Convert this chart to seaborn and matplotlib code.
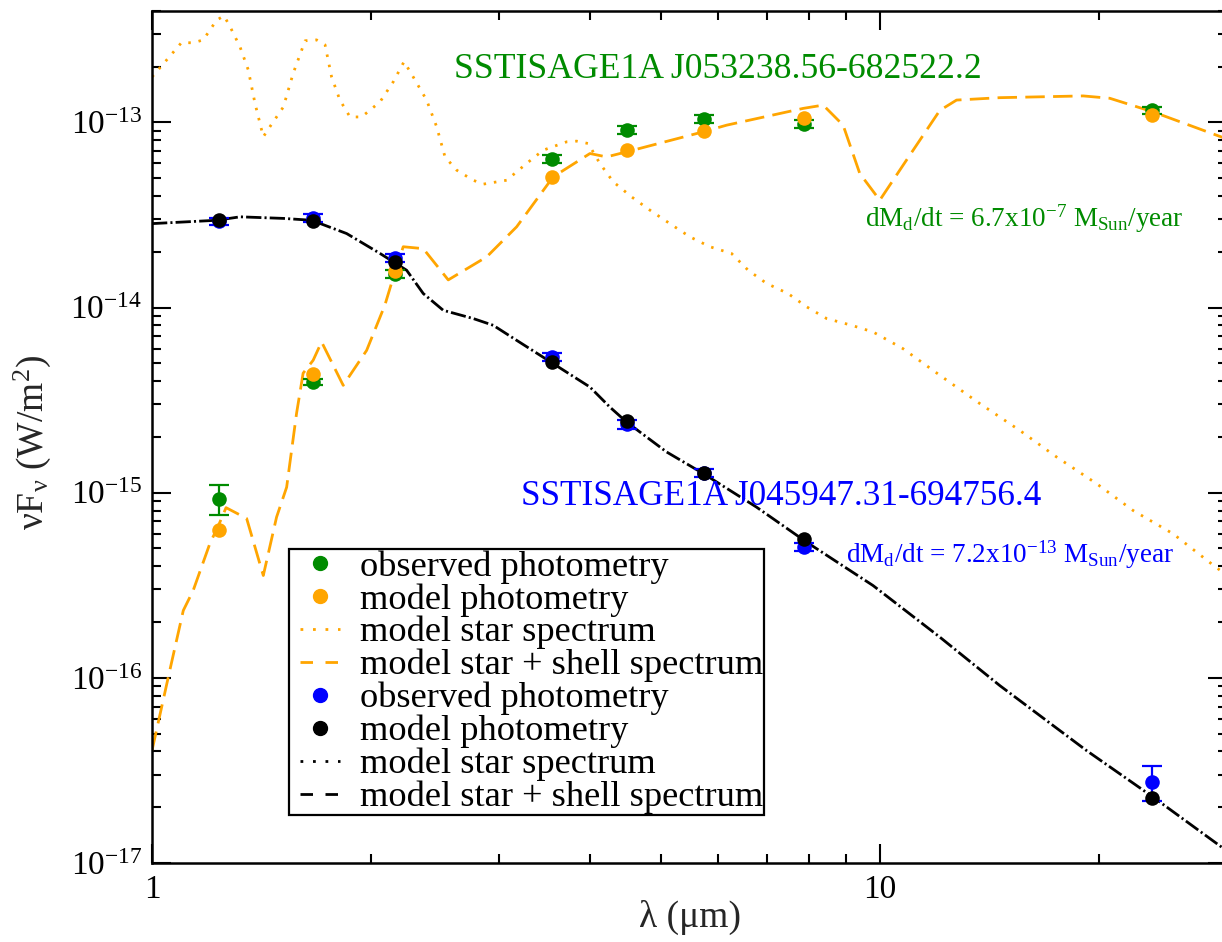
import matplotlib
matplotlib.use("Agg")
import matplotlib.pyplot as plt
from matplotlib.lines import Line2D
from matplotlib.legend_handler import HandlerLine2D
from matplotlib.ticker import (FuncFormatter, NullFormatter, LogFormatterMathtext,
                               FixedLocator)
import seaborn as sns

# ---------------------------------------------------------------- data
# photometric bands (J, H, Ks, IRAC 3.6/4.5/5.8/8.0, MIPS 24), micron
band_wl = [1.235, 1.662, 2.159, 3.550, 4.493, 5.731, 7.872, 23.68]

# SSTISAGE1A J053238.56-682522.2
obs_a = [9.3e-16, 3.96e-15, 1.52e-14, 6.38e-14, 9.08e-14, 1.046e-13, 9.8e-14, 1.165e-13]
obs_a_err = [1.7e-16, 1.5e-16, 0.8e-15, 3.2e-15, 4.5e-15, 5.0e-15, 5.0e-15, 5.0e-15]
mod_a = [6.25e-16, 4.4e-15, 1.57e-14, 5.05e-14, 7.08e-14, 9.0e-14, 1.05e-13, 1.10e-13]

star_a_wl = [1.0, 1.047, 1.098, 1.139, 1.176, 1.227, 1.256, 1.280, 1.321, 1.356,
             1.385, 1.422, 1.452, 1.515, 1.563, 1.623, 1.683, 1.729, 1.765, 1.812,
             1.871, 1.941, 2.057, 2.146, 2.220, 2.285, 2.384, 2.461, 2.527, 2.622,
             2.763, 2.852, 3.071, 3.271, 3.448, 3.712, 3.832, 3.975, 4.125, 4.302,
             4.560, 4.831, 5.147, 5.483, 5.842, 6.255, 6.594, 6.989, 7.482, 7.931,
             8.452, 9.145, 9.79, 10.76, 12.09, 13.72, 15.57, 17.49, 19.85, 22.28,
             25.29, 28.56, 30.0]
star_a_flux = [1.76e-13, 2.17e-13, 2.70e-13, 2.69e-13, 2.79e-13, 3.57e-13, 3.76e-13,
               3.29e-13, 2.56e-13, 1.92e-13, 1.27e-13, 8.36e-14, 9.47e-14, 1.21e-13,
               1.84e-13, 2.76e-13, 2.79e-13, 2.62e-13, 1.76e-13, 1.32e-13, 1.07e-13,
               1.07e-13, 1.29e-13, 1.66e-13, 2.13e-13, 1.76e-13, 1.32e-13, 9.47e-14,
               6.51e-14, 5.52e-14, 4.87e-14, 4.64e-14, 4.87e-14, 6.00e-14, 7.08e-14,
               7.85e-14, 7.92e-14, 7.69e-14, 6.00e-14, 4.78e-14, 3.96e-14, 3.36e-14,
               2.84e-14, 2.41e-14, 2.13e-14, 1.96e-14, 1.59e-14, 1.35e-14, 1.19e-14,
               1.01e-14, 8.72e-15, 8.02e-15, 7.38e-15, 6.00e-15, 4.31e-15, 3.03e-15,
               2.17e-15, 1.56e-15, 1.12e-15, 8.02e-16, 6.00e-16, 4.13e-16, 3.57e-16]

shell_a_wl = [1.0, 1.058, 1.104, 1.139, 1.201, 1.233, 1.264, 1.349, 1.422, 1.483,
              1.531, 1.580, 1.613, 1.665, 1.710, 1.831, 1.972, 2.089, 2.146, 2.214,
              2.359, 2.553, 2.884, 3.170, 3.558, 3.997, 4.213, 4.487, 5.718, 6.159,
              7.846, 8.360, 8.905, 9.386, 10.0, 10.88, 12.09, 12.75, 14.62, 19.03,
              20.70, 23.74, 30.0]
shell_a_flux = [4.05e-17, 1.10e-16, 2.31e-16, 2.96e-16, 5.32e-16, 6.6e-16, 8.30e-16,
                7.26e-16, 3.57e-16, 7.38e-16, 1.07e-15, 2.69e-15, 4.42e-15, 5.19e-15,
                6.52e-15, 3.80e-15, 5.87e-15, 1.03e-14, 1.46e-14, 2.13e-14, 2.08e-14,
                1.41e-14, 1.88e-14, 2.73e-14, 5.08e-14, 6.79e-14, 6.51e-14, 6.93e-14,
                8.89e-14, 9.66e-14, 1.19e-13, 1.24e-13, 9.66e-14, 5.30e-14, 3.80e-14,
                6.25e-14, 1.16e-13, 1.32e-13, 1.36e-13, 1.39e-13, 1.35e-13, 1.14e-13,
                8.13e-14]

# SSTISAGE1A J045947.31-694756.4
obs_b = [2.92e-14, 3.05e-14, 1.86e-14, 5.4e-15, 2.34e-15, 1.28e-15, 5.08e-16, 2.75e-17]
obs_b_err = [1.3e-15, 1.5e-15, 0.9e-15, 2.7e-16, 1.2e-16, 6.0e-17, 2.5e-17, 6.0e-18]
mod_b = [2.98e-14, 2.95e-14, 1.77e-14, 5.08e-15, 2.44e-15, 1.28e-15, 5.6e-16, 2.23e-17]

spec_b_wl = [1.0, 1.227, 1.321, 1.515, 1.657, 1.851, 2.057, 2.238, 2.359, 2.513,
             2.763, 2.943, 3.170, 3.558, 3.997, 4.257, 4.487, 5.093, 5.718, 6.769,
             7.931, 9.79, 12.09, 14.62, 19.23, 23.74, 30.0]
star_b_flux = [2.84e-14, 2.96e-14, 3.09e-14, 3.03e-14, 2.96e-14, 2.51e-14, 1.96e-14,
               1.59e-14, 1.19e-14, 9.66e-15, 8.72e-15, 8.02e-15, 6.65e-15, 4.98e-15,
               3.72e-15, 2.90e-15, 2.41e-15, 1.66e-15, 1.27e-15, 8.36e-16, 5.41e-16,
               3.15e-16, 1.66e-16, 9.08e-17, 4.05e-17, 2.27e-17, 1.16e-17]
shell_b_flux = list(star_b_flux)

legend_labels = ["observed photometry", "model photometry", "model star spectrum",
                 "model star + shell spectrum"] * 2

x_major = [1, 10]
y_major = [1e-17, 1e-16, 1e-15, 1e-14, 1e-13]

# ---------------------------------------------------------------- style
sns.set_theme(style="ticks")
plt.rcParams["font.family"] = ["Liberation Serif", "DejaVu Serif"]
plt.rcParams["mathtext.fontset"] = "custom"
plt.rcParams["mathtext.rm"] = "Liberation Serif"
plt.rcParams["mathtext.it"] = "Liberation Serif:italic"
plt.rcParams["mathtext.bf"] = "Liberation Serif:bold"
plt.rcParams["axes.unicode_minus"] = False
plt.rcParams["lines.scale_dashes"] = False

GREEN = "#008b00"
ORANGE = "#ffa500"
BLUE = "#0000ff"
BLACK = "#000000"

DOTTED = (0, (1.8, 5.7))
DASHED = (0, (14, 6))
BDASH = (0, (11, 6))
BDOT = (3.75, (1.5, 15.5))

fig = plt.figure(figsize=(12.22, 9.42), dpi=100)
ax = fig.add_axes([0.1244, 0.0839, 0.8797, 0.9045])
ax.set_xscale("log")
ax.set_yscale("log")

# model spectra
sns.lineplot(x=star_a_wl, y=star_a_flux, ax=ax, color=ORANGE, linewidth=2.0,
             linestyle=DOTTED, estimator=None, sort=False, zorder=2)
sns.lineplot(x=shell_a_wl, y=shell_a_flux, ax=ax, color=ORANGE, linewidth=2.0,
             linestyle=DASHED, estimator=None, sort=False, zorder=2)
sns.lineplot(x=spec_b_wl, y=star_b_flux, ax=ax, color=BLACK, linewidth=2.0,
             linestyle=BDOT, estimator=None, sort=False, zorder=2)
sns.lineplot(x=spec_b_wl, y=shell_b_flux, ax=ax, color=BLACK, linewidth=2.0,
             linestyle=BDASH, estimator=None, sort=False, zorder=2)

# photometry with error bars
ax.errorbar(band_wl, obs_a, yerr=obs_a_err, fmt="none", ecolor=GREEN,
            elinewidth=1.6, capsize=7, capthick=1.6, zorder=3)
sns.scatterplot(x=band_wl, y=obs_a, ax=ax, color=GREEN, s=110, linewidth=0, zorder=3)
sns.scatterplot(x=band_wl, y=mod_a, ax=ax, color=ORANGE, s=110, linewidth=0, zorder=4)
ax.errorbar(band_wl, obs_b, yerr=obs_b_err, fmt="none", ecolor=BLUE,
            elinewidth=1.6, capsize=7, capthick=1.6, zorder=5)
sns.scatterplot(x=band_wl, y=obs_b, ax=ax, color=BLUE, s=110, linewidth=0, zorder=5)
sns.scatterplot(x=band_wl, y=mod_b, ax=ax, color=BLACK, s=110, linewidth=0, zorder=6)

ax.set_xlim(1, 30)
ax.set_ylim(1e-17, 4e-13)

# axes frame and ticks
for sp in ax.spines.values():
    sp.set_visible(True)
    sp.set_linewidth(1.8)
    sp.set_color("black")
ax.tick_params(which="both", direction="in", top=True, right=True,
               colors="black", labelsize=24)
ax.tick_params(which="major", length=13.5, width=1.5)
ax.tick_params(which="minor", length=6.5, width=1.5)
ax.tick_params(axis="x", which="major", pad=8)
ax.tick_params(axis="y", which="major", pad=7)
ax.xaxis.set_major_locator(FixedLocator(x_major))
ax.yaxis.set_major_locator(FixedLocator(y_major))
ax.xaxis.set_major_formatter(FuncFormatter(lambda v, _: f"{v:g}"))
ax.xaxis.set_minor_formatter(NullFormatter())
ax.yaxis.set_major_formatter(LogFormatterMathtext())
ax.yaxis.set_minor_formatter(NullFormatter())
ax.grid(False)

ax.set_xlabel("λ (μm)", fontsize=27)
ax.xaxis.set_label_coords(0.5, -0.043)
ax.set_ylabel(r"νF$_\mathrm{ν}$ (W/m$^\mathrm{2}$)", fontsize=27)
ax.yaxis.set_label_coords(-0.092, 0.494)

# source names and mass-loss rates
ax.text(0.5265, 0.9307, "SSTISAGE1A J053238.56-682522.2", transform=ax.transAxes,
        color=GREEN, fontsize=25.7, ha="center", va="center")
ax.text(0.585, 0.4296, "SSTISAGE1A J045947.31-694756.4", transform=ax.transAxes,
        color=BLUE, fontsize=25.3, ha="center", va="center")
ax.text(0.6633, 0.7465,
        r"dM$_\mathrm{d}$/dt = 6.7x10$^\mathrm{-7}$ M$_\mathrm{Sun}$/year",
        transform=ax.transAxes, color=GREEN, fontsize=19.5, ha="left", va="baseline")
ax.text(0.6456, 0.3521,
        r"dM$_\mathrm{d}$/dt = 7.2x10$^\mathrm{-13}$ M$_\mathrm{Sun}$/year",
        transform=ax.transAxes, color=BLUE, fontsize=19.5, ha="left", va="baseline")

# legend
handles = [
    Line2D([], [], ls="none", marker="o", ms=10, color=GREEN),
    Line2D([], [], ls="none", marker="o", ms=10, color=ORANGE),
    Line2D([], [], color=ORANGE, lw=2.0, ls=(0, (2, 7))),
    Line2D([], [], color=ORANGE, lw=2.0, ls=(0, (9, 9))),
    Line2D([], [], ls="none", marker="o", ms=10, color=BLUE),
    Line2D([], [], ls="none", marker="o", ms=10, color=BLACK),
    Line2D([], [], color=BLACK, lw=2.0, ls=(0, (2, 7))),
    Line2D([], [], color=BLACK, lw=2.0, ls=(0, (9, 9))),
]
leg = ax.legend(handles, legend_labels, loc="upper left",
                bbox_to_anchor=(0.1274, 0.3685), borderaxespad=0,
                fontsize=26.2, frameon=True, fancybox=False, framealpha=1,
                edgecolor="black", facecolor="white", labelspacing=-0.015,
                handlelength=1.374, handletextpad=0.55, borderpad=0.03,
                handler_map={Line2D: HandlerLine2D(xpad=0.275)})
leg.get_frame().set_linewidth(1.6)
for t in leg.get_texts():
    t.set_color("black")

fig.savefig("out.png", dpi=100)
